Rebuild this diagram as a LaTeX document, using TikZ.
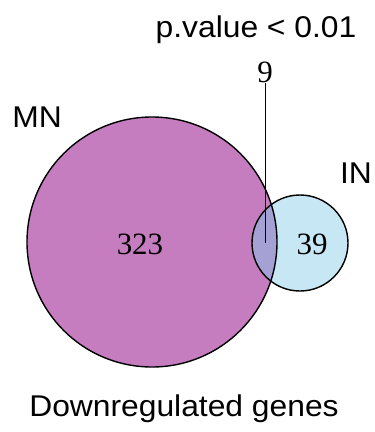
\documentclass[tikz,border=0pt]{standalone}
\usepackage{fontspec}
\setmainfont{Liberation Serif}
\newfontfamily\arialfont{Liberation Sans}
\definecolor{mnfill}{RGB}{197,125,192}
\definecolor{infill}{RGB}{199,231,244}
\definecolor{bothfill}{RGB}{166,161,212}
\begin{document}
\begin{tikzpicture}[x=1pt,y=-1pt,
  setedge/.style={draw=black,line width=1.4pt},
  count/.style={font=\fontsize{31}{31}\selectfont,inner sep=0pt},
  caption/.style={font=\arialfont\fontsize{30}{30}\selectfont,inner sep=0pt,xscale=1.06}]
\useasboundingbox (0,0) rectangle (375,432);
% set areas
\fill[mnfill] (152,242) circle (125);
\fill[infill] (300,243) circle (48);
\begin{scope}
  \clip (300,243) circle (48);
  \fill[bothfill] (152,242) circle (125);
\end{scope}
\draw[setedge] (152,242) circle (125);
\draw[setedge] (300,243) circle (48);
% counts
\node[count] (mn) at (140,244) {323};
\node[count] (in) at (312,244) {39};
\node[count] (both) at (265,72) {9};
\coordinate (bothtip) at (265,243);
\draw[line width=0.7pt] (both.south) -- (bothtip);
% labels
\node[caption,anchor=base] (mnlab) at (37,127) {MN};
\node[caption,anchor=base] (inlab) at (356,183) {IN};
\node[caption,anchor=base] (pval) at (256,37) {p.value < 0.01};
\node[caption,anchor=base] (title) at (184,416) {Downregulated genes};
\end{tikzpicture}
\end{document}
